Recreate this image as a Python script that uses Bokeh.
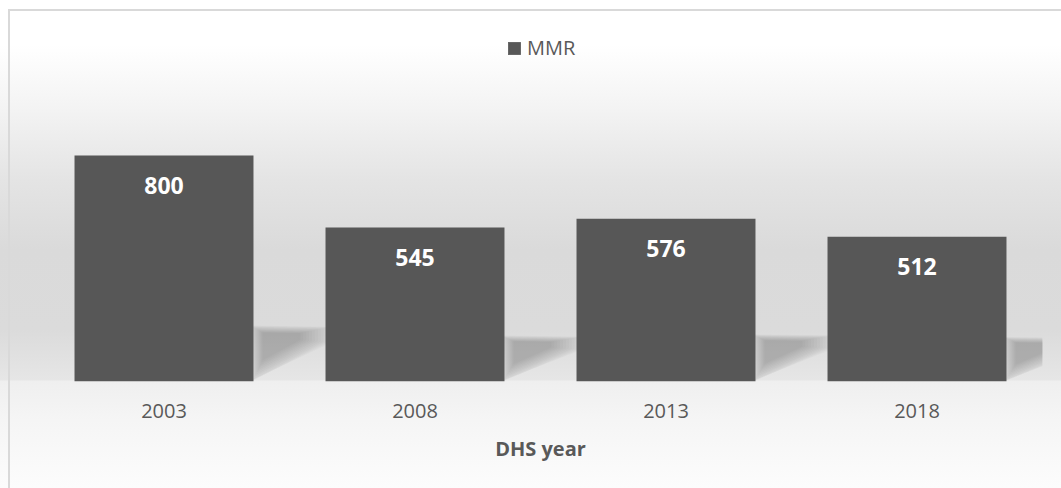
from bokeh.plotting import figure
from bokeh.models import Range1d, FixedTicker, Legend, LegendItem, ColumnDataSource
from bokeh.core.properties import value
from bokeh.embed import file_html
from bokeh.resources import INLINE

# ---- data ----
years = ["2003", "2008", "2013", "2018"]
mmr = [800, 545, 576, 512]
series_name = "MMR"
x_title = "DHS year"

xs = list(range(len(years)))
bar_w = 0.713
hw = bar_w / 2

FONT = "Open Sans"
TXT = "#595959"
BAR = "#575757"

p = figure(width=1061, height=488, output_backend="svg", toolbar_location=None,
           x_range=Range1d(-0.5, len(years) - 0.5), y_range=Range1d(0, 1278),
           min_border_left=38, min_border_right=19, min_border_top=20, min_border_bottom=107)

p.background_fill_alpha = 0
p.border_fill_alpha = 0
p.outline_line_color = None
p.xgrid.visible = False
p.ygrid.visible = False
p.yaxis.visible = False

bg = ("linear-gradient(#d9d9d9,#d9d9d9) 8px 9px / 2px 100% no-repeat, "
      "linear-gradient(#d9d9d9,#d9d9d9) 8px 9px / 100% 2px no-repeat, "
      "linear-gradient(to bottom, #ffffff 0px, #ffffff 45px, #f3f3f3 110px, #e4e4e4 180px, "
      "#dadada 250px, #dbdbdb 330px, #e6e6e6 380px, #efefef 381px, #f5f5f5 420px, #fcfcfc 488px)")
p.styles = {"background": bg, "overflow": "hidden"}

# ---- soft perspective shadows (derived from the bar values) ----
layers = 12
for k in range(layers):
    shrink = 1.2 - 0.65 * k / (layers - 1)
    sx, sy = [], []
    for i, v in zip(xs, mmr):
        r = i + hw
        top = 83 + 0.135 * v
        px_ = [r, r + 0.275, r + 0.275, r]
        py_ = [top, 0.98 * top, 0.74 * top, 0.05 * top]
        cx = r + 0.08
        cy = 0.8 * top
        px_ = [cx + (a - cx) * shrink for a in px_]
        py_ = [max(0, cy + (b - cy) * shrink) for b in py_]
        sx.append(px_)
        sy.append(py_)
    p.patches(sx, sy, fill_color="black", fill_alpha=0.02, line_color=None)

src = ColumnDataSource(dict(x=xs, top=mmr, lbl=[str(v) for v in mmr]))
bars = p.vbar(x="x", top="top", bottom=0, width=bar_w, source=src,
              fill_color=BAR, line_color=None)

p.text(x="x", y="top", text="lbl", source=src, y_offset=30,
       text_align="center", text_baseline="middle",
       text_font=value(FONT), text_font_style="bold", text_font_size="23px",
       text_color="white")

ax = p.xaxis[0]
ax.ticker = FixedTicker(ticks=xs)
ax.major_label_overrides = {i: y for i, y in zip(xs, years)}
ax.axis_line_color = None
ax.major_tick_line_color = None
ax.minor_tick_line_color = None
ax.major_tick_out = 0
ax.major_tick_in = 0
ax.major_label_standoff = 22
ax.major_label_text_font = FONT
ax.major_label_text_font_size = "20px"
ax.major_label_text_color = TXT
ax.axis_label = x_title
ax.axis_label_text_font = FONT
ax.axis_label_text_font_size = "20px"
ax.axis_label_text_font_style = "bold"
ax.axis_label_text_color = TXT
ax.axis_label_standoff = 14

legend = Legend(items=[LegendItem(label=series_name, renderers=[bars])],
                location=(468, 320), orientation="horizontal",
                padding=0, margin=0, spacing=0,
                glyph_width=16, glyph_height=16, label_standoff=5,
                label_text_font=FONT, label_text_font_size="20px",
                label_text_color=TXT,
                background_fill_alpha=0, border_line_color=None)
p.add_layout(legend)

open("out.html", "w").write(file_html(p, INLINE))
